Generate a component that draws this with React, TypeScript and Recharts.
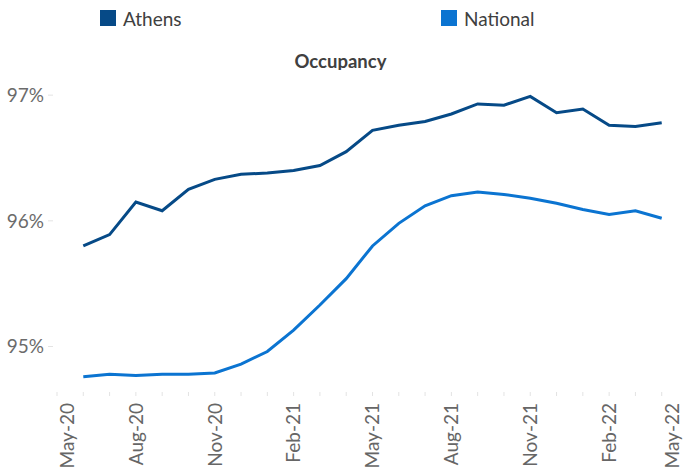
import React from "react";
import { LineChart, Line, XAxis, YAxis, Legend } from "recharts";

// monthly, May-20 .. May-22 (first and last month have no reading)
const months = [
  "May-20", "Jun-20", "Jul-20", "Aug-20", "Sep-20", "Oct-20", "Nov-20", "Dec-20",
  "Jan-21", "Feb-21", "Mar-21", "Apr-21", "May-21", "Jun-21", "Jul-21", "Aug-21",
  "Sep-21", "Oct-21", "Nov-21", "Dec-21", "Jan-22", "Feb-22", "Mar-22", "Apr-22", "May-22",
];

const athens = [
  null, 95.80, 95.89, 96.15, 96.08, 96.25, 96.33, 96.37, 96.38, 96.40, 96.44, 96.55,
  96.72, 96.76, 96.79, 96.85, 96.93, 96.92, 96.99, 96.86, 96.89, 96.76, 96.75, 96.78, null,
];

const national = [
  null, 94.76, 94.78, 94.77, 94.78, 94.78, 94.79, 94.86, 94.96, 95.13, 95.33, 95.54,
  95.80, 95.98, 96.12, 96.20, 96.23, 96.21, 96.18, 96.14, 96.09, 96.05, 96.08, 96.02, null,
];

const yTicks = [95, 96, 97];

const FONT = "Lato, 'Open Sans', sans-serif";
const ATHENS_COLOR = "#064a87";
const NATIONAL_COLOR = "#0b74d1";

const data = months.map((m, i) => ({ month: m, Athens: athens[i], National: national[i] }));

function XTick(props: any) {
  const { x, y, payload, index } = props;
  const i = payload?.index ?? index;
  // first and last labels are pulled inside the chart edge
  const lx = Math.min(Math.max(x, 67), 672);
  return (
    <g>
      <line x1={x} x2={x} y1={y - 1} y2={y + 3} stroke="#e3e3e3" strokeWidth={1} />
      {i % 3 === 0 && (
        <text
          transform={`translate(${lx},${y + 10}) rotate(-90)`}
          textAnchor="end"
          dy="0.36em"
          fill="#666666"
          fontSize={19}
          fontFamily={FONT}
        >
          {payload.value}
        </text>
      )}
    </g>
  );
}

function YTick(props: any) {
  const { x, y, payload } = props;
  return (
    <g>
      <line x1={x + 4} x2={x + 9} y1={y} y2={y} stroke="#e3e3e3" strokeWidth={1} />
      <text x={x} y={y} dy="0.36em" textAnchor="end" fill="#6b6b6b" fontSize={19} fontFamily={FONT}>
        {`${payload.value}%`}
      </text>
    </g>
  );
}

const legendX = [100, 441];

function LegendContent(props: any) {
  const payload = props.payload || [];
  return (
    <svg width={683} height={70} style={{ display: "block" }}>
      {payload.map((p: any, i: number) => (
        <g key={p.value}>
          <rect x={legendX[i]} y={10} width={16} height={16} fill={p.color} />
          <text x={legendX[i] + 23} y={25.5} fill="#404040" fontSize={19} fontFamily={FONT}>
            {p.value}
          </text>
        </g>
      ))}
      <text x={340.5} y={67.5} textAnchor="middle" fill="#404040" fontSize={18.5} fontWeight={700} fontFamily={FONT}>
        Occupancy
      </text>
    </svg>
  );
}

export default function App() {
  return (
    <div style={{ position: "absolute", left: 0, top: 0, width: 683, height: 469, overflow: "hidden", background: "#fff" }}>
      <LineChart width={683} height={469} data={data} margin={{ top: 0, right: -5, left: 0, bottom: 0 }}>
        <Legend
          verticalAlign="top"
          align="left"
          content={<LegendContent />}
          wrapperStyle={{ left: 0, top: 0, width: 683, height: 70 }}
        />
        <XAxis
          dataKey="month"
          interval={0}
          height={76}
          axisLine={false}
          tickLine={false}
          tickSize={0}
          tickMargin={0}
          tick={<XTick />}
        />
        <YAxis
          type="number"
          domain={[94.63, 97.2]}
          ticks={yTicks}
          width={57}
          axisLine={false}
          tickLine={false}
          tickSize={0}
          tickMargin={13}
          tick={<YTick />}
        />
        <Line
          type="linear"
          dataKey="Athens"
          stroke={ATHENS_COLOR}
          strokeWidth={3}
          dot={false}
          isAnimationActive={false}
        />
        <Line
          type="linear"
          dataKey="National"
          stroke={NATIONAL_COLOR}
          strokeWidth={3}
          dot={false}
          isAnimationActive={false}
        />
      </LineChart>
    </div>
  );
}
